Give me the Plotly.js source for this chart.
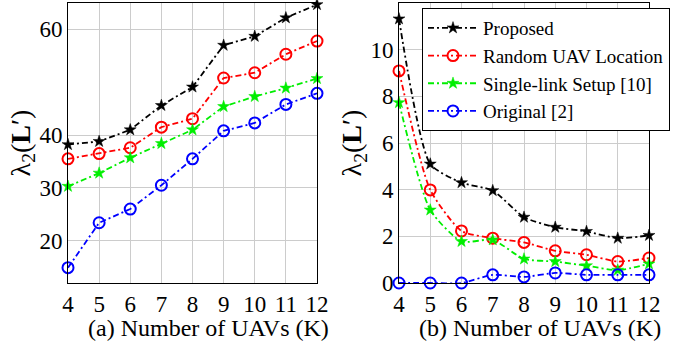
<!DOCTYPE html>
<html><head><meta charset="utf-8">
<script src="https://cdn.plot.ly/plotly-3.0.1.min.js"></script>
<style>html,body{margin:0;padding:0;background:#fff}#c{width:694px;height:350px}</style>
</head><body><div id="c"></div>
<script>
const K = [4,5,6,7,8,9,10,11,12];
const names = ['Proposed','Random UAV Location','Single-link Setup [10]','Original [2]'];
const xTitles = ['(a) Number of UAVs (K)','(b) Number of UAVs (K)'];
// (a) panel values
const a_proposed = [38.2,38.8,41.0,45.6,49.1,57.0,58.7,62.2,64.7];
const a_random   = [35.5,36.5,37.6,41.5,43.1,50.8,51.8,55.3,57.8];
const a_single   = [30.3,32.8,35.7,38.4,41.0,45.4,47.3,48.9,50.7];
const a_original = [14.9,23.4,26.0,30.5,35.5,40.8,42.3,45.8,47.9];
// (b) panel values
const b_proposed = [11.32,5.10,4.30,3.96,2.82,2.39,2.21,1.92,2.04];
const b_random   = [9.09,3.99,2.23,1.92,1.74,1.38,1.21,0.92,1.07];
const b_single   = [7.73,3.13,1.78,1.85,1.03,0.92,0.74,0.55,0.82];
const b_original = [0,0,0,0.35,0.26,0.43,0.35,0.35,0.35];
const aTicks = [20,30,40,60];
const bTicks = [0,2,4,6,8,10,12];

const colors = ['#000000','#ff0000','#00ee00','#0000ff'];
const symbols = ['star','circle-open','star','circle-open'];
const msize = [9,11,9,11];
const mline = [0.5,2,0.5,2];
const dash = '6px,3px,2px,3px';
const aData = [a_proposed,a_random,a_single,a_original];
const bData = [b_proposed,b_random,b_single,b_original];

const traces = [];
aData.forEach((d,i)=>traces.push({x:K,y:d,xaxis:'x',yaxis:'y',type:'scatter',mode:'lines+markers',
  name:names[i],showlegend:false,cliponaxis:false,legendgroup:'g'+i,
  line:{color:colors[i],width:1.8,dash:dash},
  marker:{symbol:symbols[i],size:msize[i],color:colors[i],line:{color:colors[i],width:mline[i]}}}));
bData.forEach((d,i)=>traces.push({x:K,y:d,xaxis:'x2',yaxis:'y2',type:'scatter',mode:'lines+markers',
  name:names[i],showlegend:true,cliponaxis:false,legendgroup:'g'+i,
  line:{color:colors[i],width:1.8,dash:dash,shape:'spline',smoothing:0.6},
  marker:{symbol:symbols[i],size:msize[i],color:colors[i],line:{color:colors[i],width:mline[i]}}}));

const font = {family:'Liberation Serif, Times New Roman, serif', color:'#000'};
const axBase = {showline:true,mirror:true,linecolor:'#000',linewidth:1,gridcolor:'#cccccc',gridwidth:1,
  zeroline:false,ticks:'',tickfont:{...font,size:23}};
const W=694, PH=280;
const layout = {
  width:694,height:350,margin:{l:0,r:0,t:3,b:67},paper_bgcolor:'#fff',plot_bgcolor:'#fff',font:font,
  xaxis:{...axBase,domain:[68/W,317/W],range:[4,12],tickvals:K,anchor:'y'},
  yaxis:{...axBase,domain:[0,1],range:[12,65],tickvals:aTicks,anchor:'x',
    title:{text:'λ<sub>2</sub>(<b>L</b>′)',font:{...font,size:28},standoff:0}},
  xaxis2:{...axBase,domain:[399/W,649/W],range:[4,12],tickvals:K,anchor:'y2'},
  yaxis2:{...axBase,domain:[0,1],range:[0,12],tickvals:bTicks,anchor:'x2',
    title:{text:'λ<sub>2</sub>(<b>L</b>′)',font:{...font,size:28},standoff:0}},
  annotations:[
    {text:xTitles[0],xref:'paper',yref:'paper',x:208/W,y:-(328-283)/PH,xanchor:'center',yanchor:'middle',showarrow:false,font:{...font,size:24}},
    {text:xTitles[1],xref:'paper',yref:'paper',x:540/W,y:-(328-283)/PH,xanchor:'center',yanchor:'middle',showarrow:false,font:{...font,size:24}}
  ],
  legend:{x:422/W,y:1-5/PH,xanchor:'left',yanchor:'top',bgcolor:'#fff',bordercolor:'#000',borderwidth:1,
    font:{...font,size:19},tracegroupgap:0,itemwidth:50}
};
Plotly.newPlot('c',traces,layout,{displayModeBar:false,staticPlot:true});
</script></body></html>
